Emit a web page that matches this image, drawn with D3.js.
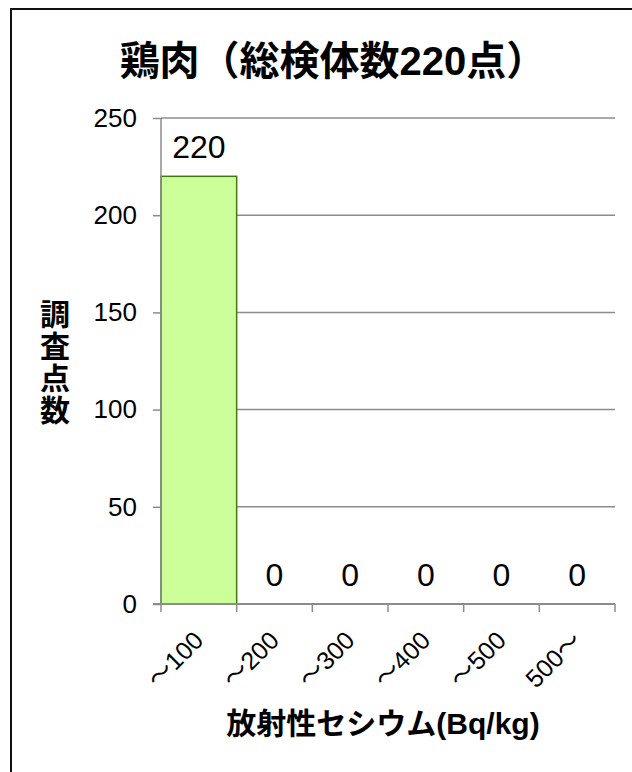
<!DOCTYPE html>
<html>
<head>
<meta charset="utf-8">
<script src="https://cdn.jsdelivr.net/npm/d3@7"></script>
<style>
  body { margin: 0; background: #fff; }
  text { font-family: "Liberation Sans", Arial, "Noto Sans CJK JP", sans-serif; }
</style>
</head>
<body>
<div id="chart"></div>
<script>
// chart data
const categories = ['～100', '～200', '～300', '～400', '～500', '500～'];
const counts = [220, 0, 0, 0, 0, 0];
const yTicks = [0, 50, 100, 150, 200, 250];

const titleText = '鶏肉（総検体数220点）';
const yTitle = ['調', '査', '点', '数'];
const xTitle = '放射性セシウム(Bq/kg)';

const width = 632, height = 772;
const plotLeft = 161, plotRight = 615, plotTop = 118, plotBottom = 604;

const svg = d3.select('#chart').append('svg')
    .attr('width', width)
    .attr('height', height);

// outer border (runs off the right and bottom edge)
svg.append('rect')
    .attr('x', 11).attr('y', 9)
    .attr('width', 640).attr('height', 800)
    .style('fill', 'none')
    .style('stroke', '#111')
    .style('stroke-width', 2);

const x = d3.scaleBand().domain(categories).range([plotLeft, plotRight]).padding(0);
const y = d3.scaleLinear().domain([0, 250]).range([plotBottom, plotTop]);

const data = categories.map((c, i) => ({ cat: c, value: counts[i] }));

// gridlines
svg.append('g')
    .selectAll('line')
    .data(yTicks.filter(t => t > 0))
    .enter().append('line')
    .attr('x1', plotLeft).attr('x2', plotRight)
    .attr('y1', d => y(d)).attr('y2', d => y(d))
    .style('stroke', '#8c8c8c')
    .style('stroke-width', 1.5);

// bars
svg.append('g')
    .selectAll('rect')
    .data(data.filter(d => d.value > 0))
    .enter().append('rect')
    .attr('x', d => x(d.cat))
    .attr('y', d => y(d.value))
    .attr('width', x.bandwidth())
    .attr('height', d => y(0) - y(d.value))
    .style('fill', '#ccff99')
    .style('stroke', '#3f7a10')
    .style('stroke-width', 1.5);

// y axis
const yAxis = svg.append('g')
    .attr('transform', `translate(${plotLeft},0)`)
    .call(d3.axisLeft(y).tickValues(yTicks).tickSize(8).tickPadding(16));
yAxis.selectAll('path, line').style('stroke', '#8c8c8c').style('stroke-width', 1.5);
yAxis.select('.domain').attr('d', `M0,${plotTop}V${plotBottom}`);
yAxis.selectAll('text')
    .style('font-size', '26px')
    .style('fill', '#000')
    .style('font-family', '"Liberation Sans", Arial, sans-serif');

// x axis line + ticks at band edges
const xg = svg.append('g');
xg.append('line')
    .attr('x1', plotLeft - 8).attr('x2', plotRight)
    .attr('y1', plotBottom).attr('y2', plotBottom)
    .style('stroke', '#8c8c8c')
    .style('stroke-width', 2);
const edges = categories.map(c => x(c)).concat([x(categories[categories.length - 1]) + x.bandwidth()]);
xg.selectAll('.xt')
    .data(edges)
    .enter().append('line')
    .attr('class', 'xt')
    .attr('x1', d => d).attr('x2', d => d)
    .attr('y1', plotBottom).attr('y2', plotBottom + 8)
    .style('stroke', '#8c8c8c')
    .style('stroke-width', 1.5);

// x tick labels rotated
xg.selectAll('.xl')
    .data(categories)
    .enter().append('text')
    .attr('class', 'xl')
    .attr('transform', d => `translate(${x(d) + x.bandwidth() / 2 + 6},${plotBottom + 38}) rotate(-45)`)
    .attr('text-anchor', 'end')
    .style('font-size', '25px')
    .text(d => d);

// data labels
svg.append('g')
    .selectAll('text')
    .data(data)
    .enter().append('text')
    .attr('x', d => x(d.cat) + x.bandwidth() / 2)
    .attr('y', d => y(d.value) - 18)
    .attr('text-anchor', 'middle')
    .style('font-size', '32px')
    .text(d => d.value);

// title
svg.append('text')
    .attr('x', 333).attr('y', 75)
    .attr('text-anchor', 'middle')
    .style('font-size', '40px')
    .style('font-weight', 'bold')
    .text(titleText);

// y axis title, stacked vertically
svg.append('g')
    .selectAll('text')
    .data(yTitle)
    .enter().append('text')
    .attr('x', 55)
    .attr('y', (d, i) => 325 + i * 32)
    .attr('text-anchor', 'middle')
    .style('font-size', '30px')
    .style('font-weight', 'bold')
    .text(d => d);

// x axis title
svg.append('text')
    .attr('x', 383).attr('y', 734)
    .attr('text-anchor', 'middle')
    .style('font-size', '30px')
    .style('font-weight', 'bold')
    .text(xTitle);
</script>
</body>
</html>
